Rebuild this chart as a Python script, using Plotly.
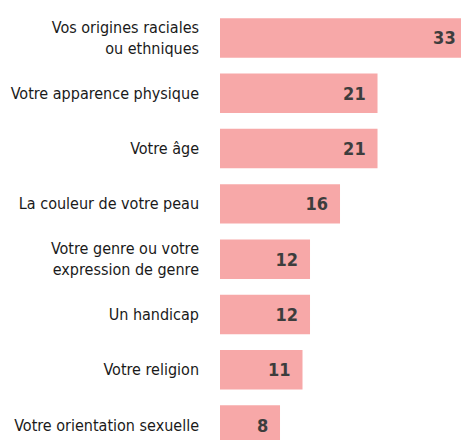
import plotly.graph_objects as go

categories = [
    "Vos origines raciales<br>ou ethniques",
    "Votre apparence physique",
    "Votre âge",
    "La couleur de votre peau",
    "Votre genre ou votre<br>expression de genre",
    "Un handicap",
    "Votre religion",
    "Votre orientation sexuelle",
]
values = [33, 21, 21, 16, 12, 12, 11, 8]

FONT = "DejaVu Sans Condensed, sans-serif"

fig = go.Figure(go.Bar(
    x=values,
    y=categories,
    orientation="h",
    marker=dict(color="#F7A8A8", line=dict(width=0)),
    texttemplate="%{x}\u00a0\u2009",
    textposition="inside",
    insidetextanchor="end",
    textangle=0,
    insidetextfont=dict(family=FONT, size=18, color="#3d3d3d", weight="bold"),
    hoverinfo="skip",
))

fig.update_layout(
    width=461, height=440,
    margin=dict(l=220, r=0, t=0, b=0, autoexpand=False),
    paper_bgcolor="white", plot_bgcolor="white",
    bargap=0.286,
    showlegend=False,
    xaxis=dict(range=[0, 32.13], visible=False, fixedrange=True, automargin=False),
    yaxis=dict(
        range=[7.27, -0.687],
        showgrid=False, zeroline=False, showline=False, automargin=False,
        ticks="", ticklabelstandoff=20,
        tickfont=dict(family=FONT, size=16, color="#1a1a1a"),
        fixedrange=True,
    ),
)

fig.write_html(
    "out.html",
    config={"displayModeBar": False, "staticPlot": True},
    post_script="document.body.style.margin='0';document.body.style.padding='0';",
)
